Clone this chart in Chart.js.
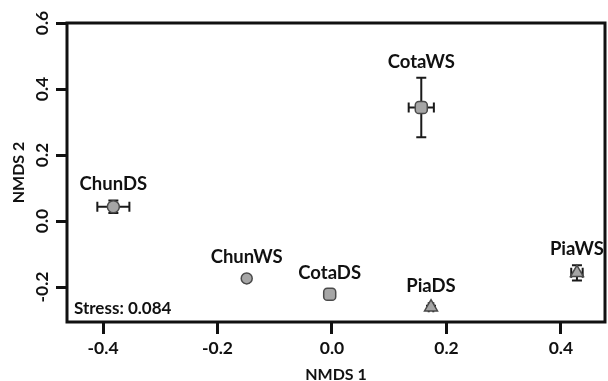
<!DOCTYPE html>
<html>
<head>
<meta charset="utf-8">
<script src="https://cdn.jsdelivr.net/npm/chart.js@4.4.1/dist/chart.umd.min.js"></script>
<style>
  body { margin: 0; background: #fff; }
</style>
</head>
<body>
<canvas id="nmds" width="608" height="381"></canvas>
<script>
// NMDS ordination, sites by season
const sites = ['ChunDS', 'ChunWS', 'CotaDS', 'CotaWS', 'PiaDS', 'PiaWS'];
const nmds1 = [-0.382, -0.149, -0.004, 0.156, 0.173, 0.428];
const nmds2 = [0.043, -0.174, -0.222, 0.344, -0.261, -0.157];
const err1 = [0.028, 0.004, 0.004, 0.022, 0.004, 0.010];
const err2 = [0.019, 0.004, 0.005, 0.090, 0.004, 0.023];
const xTicks = [-0.4, -0.2, 0.0, 0.2, 0.4];
const yTicks = [-0.2, 0.0, 0.2, 0.4, 0.6];
const stress = 0.084;

const FONT = 'Lato, "Open Sans", sans-serif';

const points = sites.map((s, i) => ({ x: nmds1[i], y: nmds2[i] }));

// error bars behind the markers
const errorBars = {
  id: 'errorBars',
  beforeDatasetsDraw(chart) {
    const { ctx, scales: { x, y } } = chart;
    ctx.save();
    ctx.strokeStyle = '#1a1a1a';
    ctx.lineWidth = 2;
    const cap = 5;
    sites.forEach((s, i) => {
      const px = x.getPixelForValue(nmds1[i]);
      const py = y.getPixelForValue(nmds2[i]);
      const x0 = x.getPixelForValue(nmds1[i] - err1[i]);
      const x1 = x.getPixelForValue(nmds1[i] + err1[i]);
      const y0 = y.getPixelForValue(nmds2[i] - err2[i]);
      const y1 = y.getPixelForValue(nmds2[i] + err2[i]);
      ctx.beginPath();
      ctx.moveTo(x0, py); ctx.lineTo(x1, py);
      ctx.moveTo(x0, py - cap); ctx.lineTo(x0, py + cap);
      ctx.moveTo(x1, py - cap); ctx.lineTo(x1, py + cap);
      ctx.moveTo(px, y0); ctx.lineTo(px, y1);
      ctx.moveTo(px - cap, y0); ctx.lineTo(px + cap, y0);
      ctx.moveTo(px - cap, y1); ctx.lineTo(px + cap, y1);
      ctx.stroke();
    });
    ctx.restore();
  }
};

// frame, site names and stress note
const decorations = {
  id: 'decorations',
  afterDraw(chart) {
    const { ctx, chartArea: a, scales: { x, y } } = chart;
    ctx.save();
    ctx.strokeStyle = '#111';
    ctx.lineWidth = 3;
    ctx.strokeRect(a.left, a.top, a.right - a.left, a.bottom - a.top);

    ctx.fillStyle = '#111';
    ctx.font = 'bold 18.5px ' + FONT;
    ctx.textAlign = 'center';
    ctx.textBaseline = 'bottom';
    sites.forEach((s, i) => {
      const px = x.getPixelForValue(nmds1[i]);
      const top = Math.min(y.getPixelForValue(nmds2[i] + err2[i]), y.getPixelForValue(nmds2[i]) - 5);
      ctx.fillText(s, px, top - 7);
    });

    ctx.font = 'bold 17px ' + FONT;
    ctx.textAlign = 'left';
    ctx.textBaseline = 'middle';
    ctx.fillText('Stress: ' + stress.toFixed(3), a.left + 7, a.bottom - 13);
    ctx.restore();
  }
};

new Chart(document.getElementById('nmds'), {
  type: 'scatter',
  data: {
    datasets: [{
      label: 'NMDS',
      data: points,
      pointStyle: ['circle', 'circle', 'rectRounded', 'rectRounded', 'triangle', 'triangle'],
      pointRadius: [6, 5.5, 7, 7, 7.5, 7.5],
      backgroundColor: '#a6a6a6',
      borderColor: '#4a4a4a',
      borderWidth: 1.5
    }]
  },
  options: {
    responsive: false,
    animation: false,
    devicePixelRatio: 1,
    layout: { autoPadding: false, padding: { top: 23, right: 3, left: 0, bottom: 0 } },
    plugins: {
      legend: { display: false },
      tooltip: { enabled: false }
    },
    scales: {
      x: {
        type: 'linear',
        min: -0.463,
        max: 0.477,
        afterBuildTicks: s => { s.ticks = xTicks.map(v => ({ value: v })); },
        afterFit: s => { s.height = 59; },
        grid: { drawOnChartArea: false, drawTicks: true, tickLength: 12, lineWidth: 3, color: '#111' },
        border: { display: false },
        ticks: {
          color: '#111',
          padding: 4,
          font: { family: FONT, size: 17.5, weight: 'bold' },
          callback: v => v.toFixed(1)
        },
        title: {
          display: true,
          text: 'NMDS 1',
          color: '#111',
          padding: { top: 0, bottom: -3 },
          font: { family: FONT, size: 16, weight: 'bold' }
        }
      },
      y: {
        type: 'linear',
        min: -0.306,
        max: 0.6,
        afterBuildTicks: s => { s.ticks = yTicks.map(v => ({ value: v })); },
        afterFit: s => { s.width = 67; },
        grid: { drawOnChartArea: false, drawTicks: true, tickLength: 11, lineWidth: 3, color: '#111' },
        border: { display: false },
        ticks: {
          color: '#111',
          padding: -2,
          minRotation: 90,
          maxRotation: 90,
          crossAlign: 'center',
          font: { family: FONT, size: 17.5, weight: 'bold' },
          callback: v => v.toFixed(1)
        },
        title: {
          display: true,
          text: 'NMDS 2',
          color: '#111',
          padding: { top: 9, bottom: 0 },
          font: { family: FONT, size: 16, weight: 'bold' }
        }
      }
    }
  },
  plugins: [errorBars, decorations]
});
</script>
</body>
</html>
